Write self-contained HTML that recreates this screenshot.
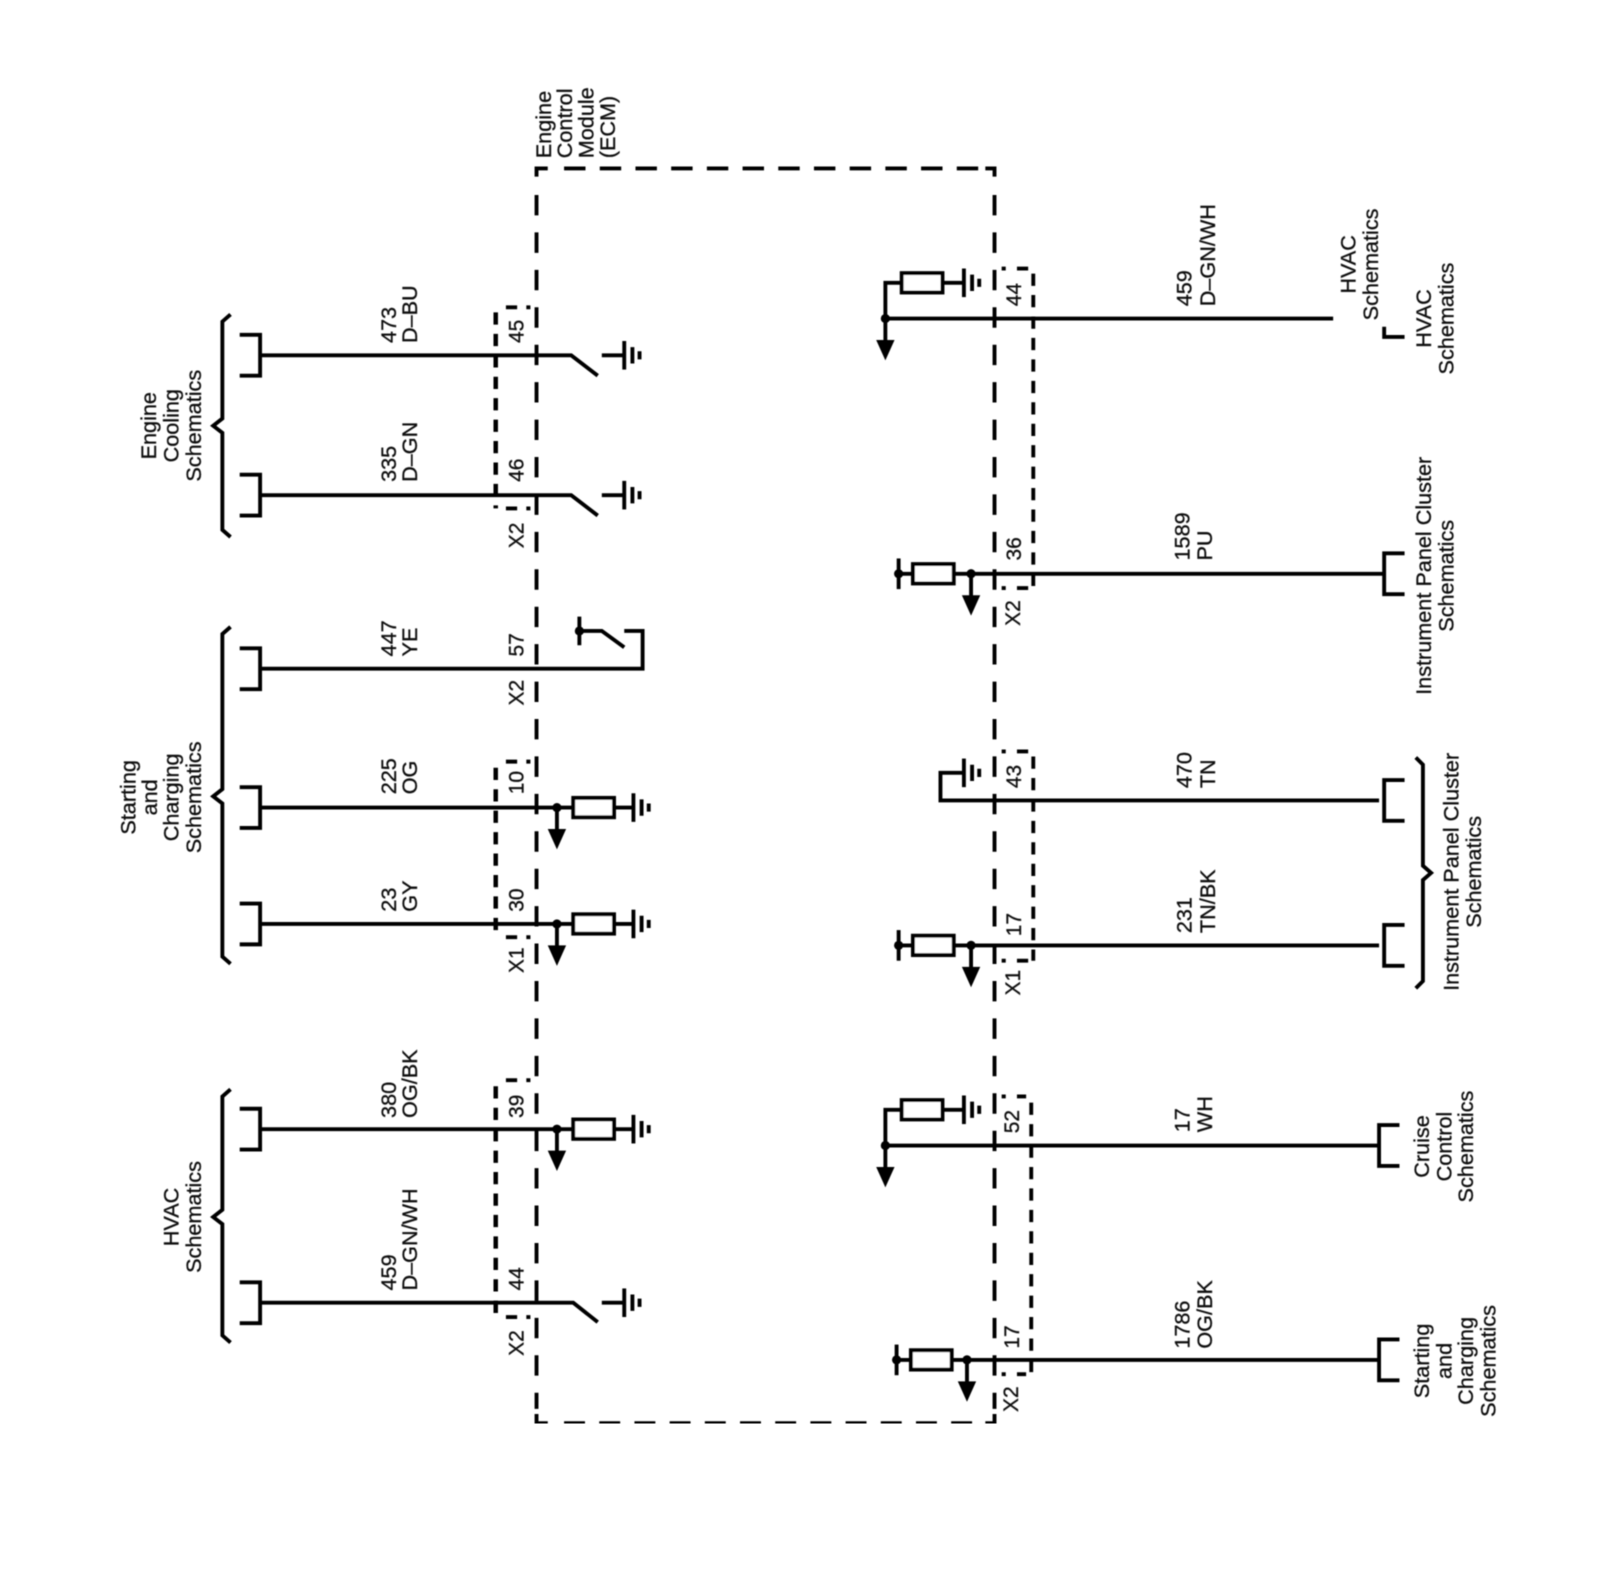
<!DOCTYPE html>
<html><head><meta charset="utf-8"><style>
html,body{margin:0;padding:0;background:#fff}
svg{display:block}
text{font-family:"Liberation Sans",sans-serif;fill:#111;stroke:#111;stroke-width:.3;font-size:20.5px}
.s{font-size:21.2px}
.m{text-anchor:middle;font-size:21.2px}
.w{fill:none;stroke:#000;stroke-width:3.8}
.b{fill:none;stroke:#000;stroke-width:3.8}
.d{fill:none;stroke:#000;stroke-width:4.4;stroke-dasharray:12 9}
.e{fill:none;stroke:#000;stroke-width:3.8;stroke-dasharray:12 9}
</style></head><body>
<svg width="1600" height="1584" viewBox="0 0 1568.6 1551.5" preserveAspectRatio="none" xmlns="http://www.w3.org/2000/svg">
<defs>
<filter id="bl" x="0" y="0" width="100%" height="100%"><feGaussianBlur stdDeviation="0.4"/></filter>
<g id="gnd"><path class="w" d="M0,-14V14"/><path class="w" d="M8,-8V8M15,-4V4" stroke-width="3"/></g>
<g id="arr"><path class="w" d="M0,0V24"/><path d="M-9,21H9L0,41Z" fill="#000"/><circle cy="0" r="4.5" fill="#000"/></g>
<g id="lb"><path class="w" d="M235,-20H255V20H235"/></g>
<g id="rb"><path class="w" d="M20,-20H0V20H20"/></g>
<g id="res"><rect x="0" y="-9.5" width="40" height="19" fill="#fff" stroke="#000" stroke-width="3.8"/></g>
</defs>
<g filter="url(#bl)">

<!-- ECM box -->
<path class="b" d="M526,173V165H537M526,1385V1394H537M966,165H975V173M966,1394H975V1385"/>
<path class="b" stroke-dasharray="20 16.66" d="M526,191V1380"/>
<path class="b" stroke-dasharray="20 16.66" d="M975,191V1380"/>
<path class="b" stroke-dasharray="21 14" d="M553,165H960"/>
<path class="b" stroke-dasharray="20.5 14" d="M553,1394H955"/>

<!-- Left connector dashes -->
<path class="d" d="M486,306V498"/>
<path class="w" d="M496,301H507M516,301H520M496,498H507M516,498H520"/>
<path class="d" d="M486,752V918"/>
<path class="w" d="M496,746H507M516,746H520M496,918H507M516,918H520"/>
<path class="d" d="M486,1064V1290"/>
<path class="w" d="M496,1058H507M516,1058H520M496,1290H507M516,1290H520"/>

<!-- Right connector dashes -->
<path class="e" d="M1013,268V576"/>
<path class="w" d="M982,263H986M997,263H1008M982,576H986M997,576H1008"/>
<path class="e" d="M1013,741V941"/>
<path class="w" d="M982,736H986M997,736H1008M982,941H986M997,941H1008"/>
<path class="e" d="M1011,1080V1346"/>
<path class="w" d="M982,1074H986M997,1074H1006M982,1346H986M997,1346H1006"/>

<!-- Left wires -->
<path class="w" d="M255,348H560L586,368"/><use href="#lb" y="348"/><use href="#gnd" x="612" y="348"/><path class="w" d="M590,348H612"/>
<path class="w" d="M255,485H560L586,505"/><use href="#lb" y="485"/><use href="#gnd" x="612" y="485"/><path class="w" d="M590,485H612"/>
<path class="w" d="M255,655H630V618H612"/><use href="#lb" y="655"/>
<path class="w" d="M568,604V632M568,618H590L612,634"/><circle cx="568" cy="618" r="4.5"/>
<path class="w" d="M255,791H562M602,791H620"/><use href="#lb" y="791"/><use href="#arr" x="546" y="791"/><use href="#res" x="562" y="791"/><use href="#gnd" x="621" y="791"/>
<path class="w" d="M255,905H562M602,905H620"/><use href="#lb" y="905"/><use href="#arr" x="546" y="905"/><use href="#res" x="562" y="905"/><use href="#gnd" x="621" y="905"/>
<path class="w" d="M255,1106H562M602,1106H620"/><use href="#lb" y="1106"/><use href="#arr" x="546" y="1106"/><use href="#res" x="562" y="1106"/><use href="#gnd" x="621" y="1106"/>
<path class="w" d="M255,1276H562L586,1295"/><use href="#lb" y="1276"/><use href="#gnd" x="612" y="1276"/><path class="w" d="M590,1276H612"/>

<!-- Left braces -->
<path class="w" d="M226,308L218,315V410L209,417L218,424V519L226,526"/>
<path class="w" d="M226,614L218,621V773L209,780L218,787V937L226,944"/>
<path class="w" d="M226,1067L218,1074V1185L209,1192L218,1199V1308L226,1315"/>

<!-- Right wires -->
<path class="w" d="M1307,312H868V277H884M924,277H945"/><use href="#arr" x="868" y="312"/><use href="#res" x="884" y="277"/><use href="#gnd" x="945" y="277"/>
<path class="w" d="M1377,330H1357V320"/>
<path class="w" d="M1357,562H880"/><use href="#rb" x="1357" y="562"/><use href="#res" x="895" y="562"/><use href="#arr" x="952" y="562"/><path class="w" d="M881,547V577"/><circle cx="881" cy="562" r="4.5"/>
<path class="w" d="M1352,784H922V757H945"/><use href="#gnd" x="945" y="757"/><use href="#rb" x="1357" y="784"/>
<path class="w" d="M1352,926H880"/><use href="#rb" x="1357" y="926"/><use href="#res" x="895" y="926"/><use href="#arr" x="952" y="926"/><path class="w" d="M881,911V941"/><circle cx="881" cy="926" r="4.5"/>
<path class="w" d="M1352,1122H868V1087H884M924,1087H945"/><use href="#arr" x="868" y="1122"/><use href="#res" x="884" y="1087"/><use href="#gnd" x="945" y="1087"/><use href="#rb" x="1352" y="1122"/>
<path class="w" d="M1352,1332H878"/><use href="#rb" x="1352" y="1332"/><use href="#res" x="893" y="1332"/><use href="#arr" x="948" y="1332"/><path class="w" d="M879,1317V1347"/><circle cx="879" cy="1332" r="4.5"/>

<!-- Right brace -->
<path class="w" d="M1388,742L1395,749V848L1403,855L1395,862V961L1388,968"/>

<!-- ECM label -->
<text class="s" transform="translate(540,155) rotate(-90)">Engine</text>
<text class="s" transform="translate(561,155) rotate(-90)">Control</text>
<text class="s" transform="translate(582,155) rotate(-90)">Module</text>
<text class="s" transform="translate(603,155) rotate(-90)">(ECM)</text>

<!-- Left wire labels -->
<text class="s" transform="translate(388,336) rotate(-90)">473</text><text class="s" transform="translate(409,336) rotate(-90)">D–BU</text>
<text class="s" transform="translate(388,472) rotate(-90)">335</text><text class="s" transform="translate(409,472) rotate(-90)">D–GN</text>
<text class="s" transform="translate(388,643) rotate(-90)">447</text><text class="s" transform="translate(409,643) rotate(-90)">YE</text>
<text class="s" transform="translate(388,778) rotate(-90)">225</text><text class="s" transform="translate(409,778) rotate(-90)">OG</text>
<text class="s" transform="translate(388,893) rotate(-90)">23</text><text class="s" transform="translate(409,893) rotate(-90)">GY</text>
<text class="s" transform="translate(388,1095) rotate(-90)">380</text><text class="s" transform="translate(409,1095) rotate(-90)">OG/BK</text>
<text class="s" transform="translate(388,1264) rotate(-90)">459</text><text class="s" transform="translate(409,1264) rotate(-90)">D–GN/WH</text>

<!-- Left pins -->
<text transform="translate(513,336) rotate(-90)">45</text>
<text transform="translate(513,472) rotate(-90)">46</text>
<text transform="translate(513,537) rotate(-90)">X2</text>
<text transform="translate(513,643) rotate(-90)">57</text>
<text transform="translate(513,691) rotate(-90)">X2</text>
<text transform="translate(513,778) rotate(-90)">10</text>
<text transform="translate(513,893) rotate(-90)">30</text>
<text transform="translate(513,953) rotate(-90)">X1</text>
<text transform="translate(513,1095) rotate(-90)">39</text>
<text transform="translate(513,1264) rotate(-90)">44</text>
<text transform="translate(513,1328) rotate(-90)">X2</text>

<!-- Left side labels -->
<text class="m" transform="translate(153,417) rotate(-90)">Engine</text>
<text class="m" transform="translate(175,417) rotate(-90)">Cooling</text>
<text class="m" transform="translate(197,417) rotate(-90)">Schematics</text>
<text class="m" transform="translate(133,781) rotate(-90)">Starting</text>
<text class="m" transform="translate(154,781) rotate(-90)">and</text>
<text class="m" transform="translate(175,781) rotate(-90)">Charging</text>
<text class="m" transform="translate(197,781) rotate(-90)">Schematics</text>
<text class="m" transform="translate(175,1192) rotate(-90)">HVAC</text>
<text class="m" transform="translate(197,1192) rotate(-90)">Schematics</text>

<!-- Right wire labels -->
<text class="s" transform="translate(1168,300) rotate(-90)">459</text><text class="s" transform="translate(1191,300) rotate(-90)">D–GN/WH</text>
<text class="s" transform="translate(1166,549) rotate(-90)">1589</text><text class="s" transform="translate(1188,549) rotate(-90)">PU</text>
<text class="s" transform="translate(1168,772) rotate(-90)">470</text><text class="s" transform="translate(1191,772) rotate(-90)">TN</text>
<text class="s" transform="translate(1168,914) rotate(-90)">231</text><text class="s" transform="translate(1191,914) rotate(-90)">TN/BK</text>
<text class="s" transform="translate(1166,1109) rotate(-90)">17</text><text class="s" transform="translate(1188,1109) rotate(-90)">WH</text>
<text class="s" transform="translate(1166,1321) rotate(-90)">1786</text><text class="s" transform="translate(1188,1321) rotate(-90)">OG/BK</text>

<!-- Right pins -->
<text transform="translate(1001,300) rotate(-90)">44</text>
<text transform="translate(1001,549) rotate(-90)">36</text>
<text transform="translate(1000,613) rotate(-90)">X2</text>
<text transform="translate(1001,772) rotate(-90)">43</text>
<text transform="translate(1001,917) rotate(-90)">17</text>
<text transform="translate(1000,975) rotate(-90)">X1</text>
<text transform="translate(999,1110) rotate(-90)">52</text>
<text transform="translate(999,1321) rotate(-90)">17</text>
<text transform="translate(998,1383) rotate(-90)">X2</text>

<!-- Right side labels -->
<text class="m" transform="translate(1329,259) rotate(-90)">HVAC</text>
<text class="m" transform="translate(1351,259) rotate(-90)">Schematics</text>
<text class="m" transform="translate(1403,312) rotate(-90)">HVAC</text>
<text class="m" transform="translate(1425,312) rotate(-90)">Schematics</text>
<text class="m" transform="translate(1403,564) rotate(-90)">Instrument Panel Cluster</text>
<text class="m" transform="translate(1425,564) rotate(-90)">Schematics</text>
<text class="m" transform="translate(1430,854) rotate(-90)">Instrument Panel Cluster</text>
<text class="m" transform="translate(1452,854) rotate(-90)">Schematics</text>
<text class="m" transform="translate(1401,1123) rotate(-90)">Cruise</text>
<text class="m" transform="translate(1423,1123) rotate(-90)">Control</text>
<text class="m" transform="translate(1444,1123) rotate(-90)">Schematics</text>
<text class="m" transform="translate(1401,1333) rotate(-90)">Starting</text>
<text class="m" transform="translate(1423,1333) rotate(-90)">and</text>
<text class="m" transform="translate(1444,1333) rotate(-90)">Charging</text>
<text class="m" transform="translate(1466,1333) rotate(-90)">Schematics</text>
</g>
</svg>
</body></html>
